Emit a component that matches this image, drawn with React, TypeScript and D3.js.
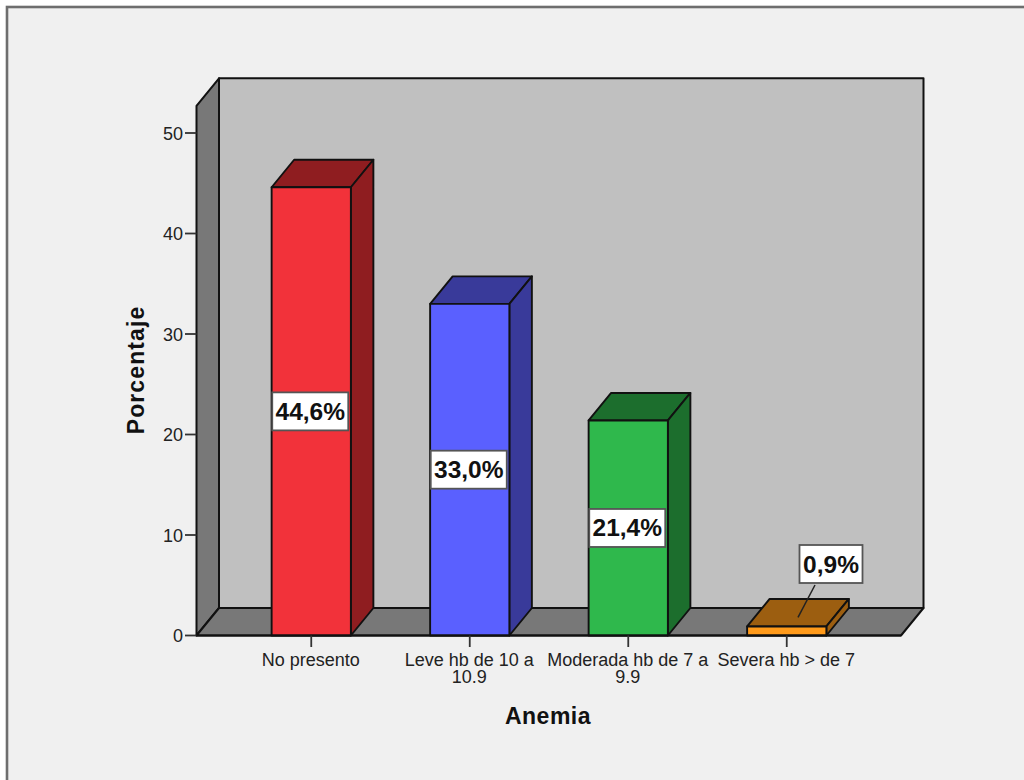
import React from "react";
import * as d3 from "d3";

const categories = ["No presento", "Leve hb de 10 a 10.9", "Moderada hb de 7 a 9.9", "Severa hb > de 7"];
const tickLines = [["No presento"], ["Leve hb de 10 a", "10.9"], ["Moderada hb de 7 a", "9.9"], ["Severa hb > de 7"]];
const percentages = [44.6, 33.0, 21.4, 0.9];
const valueLabels = ["44,6%", "33,0%", "21,4%", "0,9%"];
const frontColors = ["#f2323a", "#5a60ff", "#2fb84c", "#ff9a1a"];
const shadeColors = ["#8f1d20", "#393a9a", "#1c6e2d", "#9c5e10"];
const yTicks = [0, 10, 20, 30, 40, 50];

const FONT = "'Liberation Sans', Arial, sans-serif";
const INK = "#111";
const DX = 22.5;
const DY = -27.5;

const y = d3.scaleLinear().domain([0, 50]).range([635.5, 133]);
const x = d3.scaleBand().domain(categories).range([232, 866]).paddingInner(0.5).paddingOuter(0.25);

const AXIS_LEFT = 196.5;
const AXIS_RIGHT = 901;
const AXIS_TOP = y(52.7);
const AXIS_BOTTOM = y(0);

const poly = (pts: [number, number][]) => d3.line()(pts) + "Z";

function ValueTag({ cx, cy, w, text }: { cx: number; cy: number; w: number; text: string }) {
  const h = 38;
  return (
    <g>
      <rect x={cx - w / 2} y={cy - h / 2} width={w} height={h} fill="#fff" stroke="#555" strokeWidth={1.8} />
      <text x={cx} y={cy + 8.5} textAnchor="middle" fontFamily={FONT} fontWeight="bold" fontSize={24.5} fill={INK}>
        {text}
      </text>
    </g>
  );
}

export default function App() {
  const bw = x.bandwidth();
  return (
    <svg width={1024} height={780} style={{ position: "absolute", left: 0, top: 0, display: "block" }}>
      <rect width={1024} height={780} fill="#fff" />
      <rect x={7} y={7} width={1040} height={800} fill="#f0f0f0" stroke="#6e6e6e" strokeWidth={2.6} />

      {/* Chart box: back wall, side wall and floor */}
      <g stroke={INK} strokeWidth={2} strokeLinejoin="round">
        <path
          d={poly([[AXIS_LEFT + DX, AXIS_TOP + DY], [AXIS_RIGHT + DX, AXIS_TOP + DY], [AXIS_RIGHT + DX, AXIS_BOTTOM + DY], [AXIS_LEFT + DX, AXIS_BOTTOM + DY]])}
          fill="#c0c0c0"
        />
        <path
          d={poly([[AXIS_LEFT, AXIS_TOP], [AXIS_LEFT + DX, AXIS_TOP + DY], [AXIS_LEFT + DX, AXIS_BOTTOM + DY], [AXIS_LEFT, AXIS_BOTTOM]])}
          fill="#787878"
        />
        <path
          d={poly([[AXIS_LEFT, AXIS_BOTTOM], [AXIS_LEFT + DX, AXIS_BOTTOM + DY], [AXIS_RIGHT + DX, AXIS_BOTTOM + DY], [AXIS_RIGHT, AXIS_BOTTOM]])}
          fill="#787878"
        />
      </g>

      {/* Value axis */}
      <g>
        {yTicks.map((t) => (
          <g key={t}>
            <line x1={185} x2={AXIS_LEFT} y1={y(t)} y2={y(t)} stroke="#333" strokeWidth={1.8} />
            <text x={183} y={y(t) + 6.5} textAnchor="end" fontFamily={FONT} fontSize={18} fill="#222">
              {t}
            </text>
          </g>
        ))}
      </g>

      {/* Extruded bars */}
      {categories.map((c, i) => {
        const x0 = x(c) as number;
        const x1 = x0 + bw;
        const top = y(percentages[i]);
        return (
          <g key={c} stroke={INK} strokeWidth={1.9} strokeLinejoin="round">
            <path d={poly([[x0, top], [x0 + DX, top + DY], [x1 + DX, top + DY], [x1, top]])} fill={shadeColors[i]} />
            <path d={poly([[x1, top], [x1 + DX, top + DY], [x1 + DX, AXIS_BOTTOM + DY], [x1, AXIS_BOTTOM]])} fill={shadeColors[i]} />
            <rect x={x0} y={top} width={bw} height={AXIS_BOTTOM - top} fill={frontColors[i]} />
          </g>
        );
      })}

      {/* Category axis */}
      <line x1={AXIS_LEFT} x2={AXIS_RIGHT} y1={AXIS_BOTTOM} y2={AXIS_BOTTOM} stroke={INK} strokeWidth={2} />
      {categories.map((c, i) => {
        const cx = (x(c) as number) + bw / 2;
        return (
          <g key={c}>
            <line x1={cx} x2={cx} y1={AXIS_BOTTOM} y2={647} stroke="#333" strokeWidth={1.8} />
            <text textAnchor="middle" fontFamily={FONT} fontSize={18} fill="#222">
              {tickLines[i].map((line, k) => (
                <tspan key={k} x={cx - 0.5} y={666 + k * 17}>
                  {line}
                </tspan>
              ))}
            </text>
          </g>
        );
      })}

      {/* Value labels; the smallest bar gets a callout above it */}
      {categories.map((c, i) => {
        const cx = (x(c) as number) + bw / 2;
        const small = percentages[i] < 5;
        if (small) {
          const top = y(percentages[i]);
          return (
            <g key={c}>
              <line x1={815} y1={585} x2={798} y2={top - 9} stroke="#222" strokeWidth={1.5} />
              <ValueTag cx={831} cy={564} w={63} text={valueLabels[i]} />
            </g>
          );
        }
        return <ValueTag key={c} cx={cx - 1} cy={y(percentages[i] / 2)} w={76} text={valueLabels[i]} />;
      })}

      {/* Axis titles */}
      <text
        transform="translate(144 370) rotate(-90)"
        textAnchor="middle"
        fontFamily={FONT}
        fontWeight="bold"
        fontSize={23}
        letterSpacing={1.1}
        fill={INK}
      >
        Porcentaje
      </text>
      <text x={548} y={724} textAnchor="middle" fontFamily={FONT} fontWeight="bold" fontSize={23} letterSpacing={0.5} fill={INK}>
        Anemia
      </text>
    </svg>
  );
}
